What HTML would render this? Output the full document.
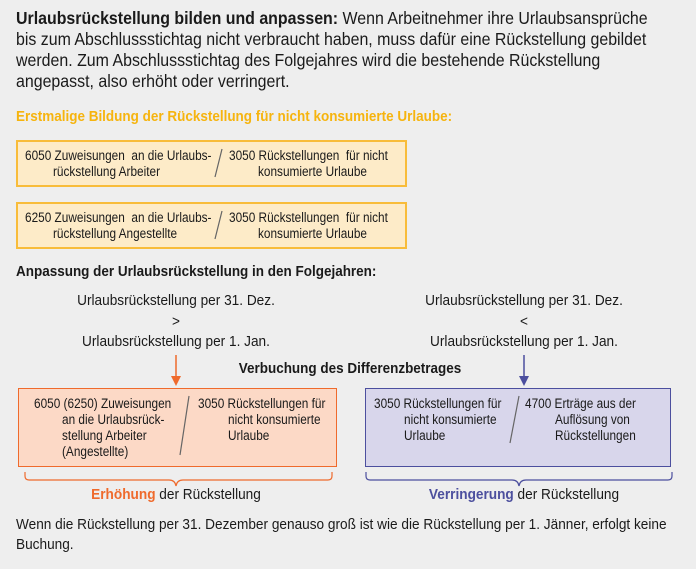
<!DOCTYPE html>
<html><head><meta charset="utf-8"><style>
body{margin:0;width:696px;height:569px;background:#eeeeee;font-family:"Liberation Sans",sans-serif;color:#1a1a1a;position:relative;overflow:hidden}
.a{position:absolute;white-space:nowrap;transform-origin:0 0}
.c{transform-origin:50% 0}
.t{font-size:17.5px;line-height:21px;transform:scaleX(0.91)}
.s{font-size:13.5px;line-height:16px;transform:scaleX(0.875)}
.m{font-size:14.5px;line-height:18px;transform:scaleX(0.94)}
.h{font-size:14.5px;font-weight:bold;transform:scaleX(0.93)}
.b{font-weight:bold}
.box{position:absolute;box-sizing:border-box}
</style></head><body>
<div class="a t" style="left:16px;top:8px;"><b>Urlaubsrückstellung bilden und anpassen:</b> Wenn Arbeitnehmer ihre Urlaubsansprüche</div>
<div class="a t" style="left:16px;top:29px;">bis zum Abschlussstichtag nicht verbraucht haben, muss dafür eine Rückstellung gebildet</div>
<div class="a t" style="left:16px;top:50px;">werden. Zum Abschlussstichtag des Folgejahres wird die bestehende Rückstellung</div>
<div class="a t" style="left:16px;top:71px;">angepasst, also erhöht oder verringert.</div>
<div class="a h" style="left:16px;top:109px;color:#f6b40e">Erstmalige Bildung der Rückstellung für nicht konsumierte Urlaube:</div>

<div class="box" style="left:16px;top:140px;width:391px;height:47px;background:#fdebc8;border:2px solid #f8bc3a"></div>
<div class="a s" style="left:25px;top:148px">6050 Zuweisungen&nbsp; an die Urlaubs-</div>
<div class="a s" style="left:53px;top:164px">rückstellung Arbeiter</div>
<div class="a s" style="left:229px;top:148px">3050 Rückstellungen&nbsp; für nicht</div>
<div class="a s" style="left:258px;top:164px">konsumierte Urlaube</div>

<div class="box" style="left:16px;top:202px;width:391px;height:47px;background:#fdebc8;border:2px solid #f8bc3a"></div>
<div class="a s" style="left:25px;top:210px">6250 Zuweisungen&nbsp; an die Urlaubs-</div>
<div class="a s" style="left:53px;top:226px">rückstellung Angestellte</div>
<div class="a s" style="left:229px;top:210px">3050 Rückstellungen&nbsp; für nicht</div>
<div class="a s" style="left:258px;top:226px">konsumierte Urlaube</div>

<div class="a h" style="left:16px;top:264px">Anpassung der Urlaubsrückstellung in den Folgejahren:</div>
<div class="a m c" style="left:0;width:352px;text-align:center;top:292px">Urlaubsrückstellung per 31. Dez.</div>
<div class="a m c" style="left:0;width:352px;text-align:center;top:313px">&gt;</div>
<div class="a m c" style="left:0;width:352px;text-align:center;top:333px">Urlaubsrückstellung per 1. Jan.</div>
<div class="a m c" style="left:348px;width:352px;text-align:center;top:292px">Urlaubsrückstellung per 31. Dez.</div>
<div class="a m c" style="left:348px;width:352px;text-align:center;top:313px">&lt;</div>
<div class="a m c" style="left:348px;width:352px;text-align:center;top:333px">Urlaubsrückstellung per 1. Jan.</div>
<div class="a h c" style="left:0;width:700px;text-align:center;top:361px">Verbuchung des Differenzbetrages</div>

<div class="box" style="left:18px;top:388px;width:319px;height:79px;background:#fcd9c6;border:1.5px solid #ef6a2c"></div>
<div class="a s" style="left:34px;top:396px">6050 (6250) Zuweisungen</div>
<div class="a s" style="left:62px;top:412px">an die Urlaubsrück-</div>
<div class="a s" style="left:62px;top:428px">stellung Arbeiter</div>
<div class="a s" style="left:62px;top:444px">(Angestellte)</div>
<div class="a s" style="left:198px;top:396px">3050 Rückstellungen für</div>
<div class="a s" style="left:228px;top:412px">nicht konsumierte</div>
<div class="a s" style="left:228px;top:428px">Urlaube</div>

<div class="box" style="left:365px;top:388px;width:306px;height:79px;background:#d8d6eb;border:1.5px solid #4c4f9e"></div>
<div class="a s" style="left:374px;top:396px">3050 Rückstellungen für</div>
<div class="a s" style="left:404px;top:412px">nicht konsumierte</div>
<div class="a s" style="left:404px;top:428px">Urlaube</div>
<div class="a s" style="left:525px;top:396px">4700 Erträge aus der</div>
<div class="a s" style="left:555px;top:412px">Auflösung von</div>
<div class="a s" style="left:555px;top:428px">Rückstellungen</div>

<svg class="a" style="left:0;top:0" width="696" height="569">
<line x1="222" y1="149" x2="215" y2="177" stroke="#666" stroke-width="1.2"/>
<line x1="222" y1="211" x2="215" y2="239" stroke="#666" stroke-width="1.2"/>
<line x1="189" y1="396" x2="180" y2="455" stroke="#666" stroke-width="1.2"/>
<line x1="519" y1="396" x2="510" y2="443" stroke="#666" stroke-width="1.2"/>
<line x1="176" y1="355" x2="176" y2="378" stroke="#ef6a2c" stroke-width="1.5"/><polygon points="171,376 181,376 176,386" fill="#ef6a2c"/>
<line x1="524" y1="355" x2="524" y2="378" stroke="#4c4f9e" stroke-width="1.5"/><polygon points="519,376 529,376 524,386" fill="#4c4f9e"/>
<path d="M25,472 v4 q0,4 4,4 h140 q6,0 7,6 q1,-6 7,-6 h145 q4,0 4,-4 v-4" fill="none" stroke="#ef6a2c" stroke-width="1.2"/>
<path d="M366,472 v4 q0,4 4,4 h142 q6,0 7,6 q1,-6 7,-6 h142 q4,0 4,-4 v-4" fill="none" stroke="#4c4f9e" stroke-width="1.2"/>
</svg>

<div class="a m c" style="left:0;width:352px;text-align:center;top:486px"><b style="color:#ef6a2c">Erhöhung</b> der Rückstellung</div>
<div class="a m c" style="left:348px;width:352px;text-align:center;top:486px"><b style="color:#4c4f9e">Verringerung</b> der Rückstellung</div>
<div class="a m" style="left:16px;top:516px">Wenn die Rückstellung per 31. Dezember genauso groß ist wie die Rückstellung per 1. Jänner, erfolgt keine</div>
<div class="a m" style="left:16px;top:536px">Buchung.</div>
</body></html>
